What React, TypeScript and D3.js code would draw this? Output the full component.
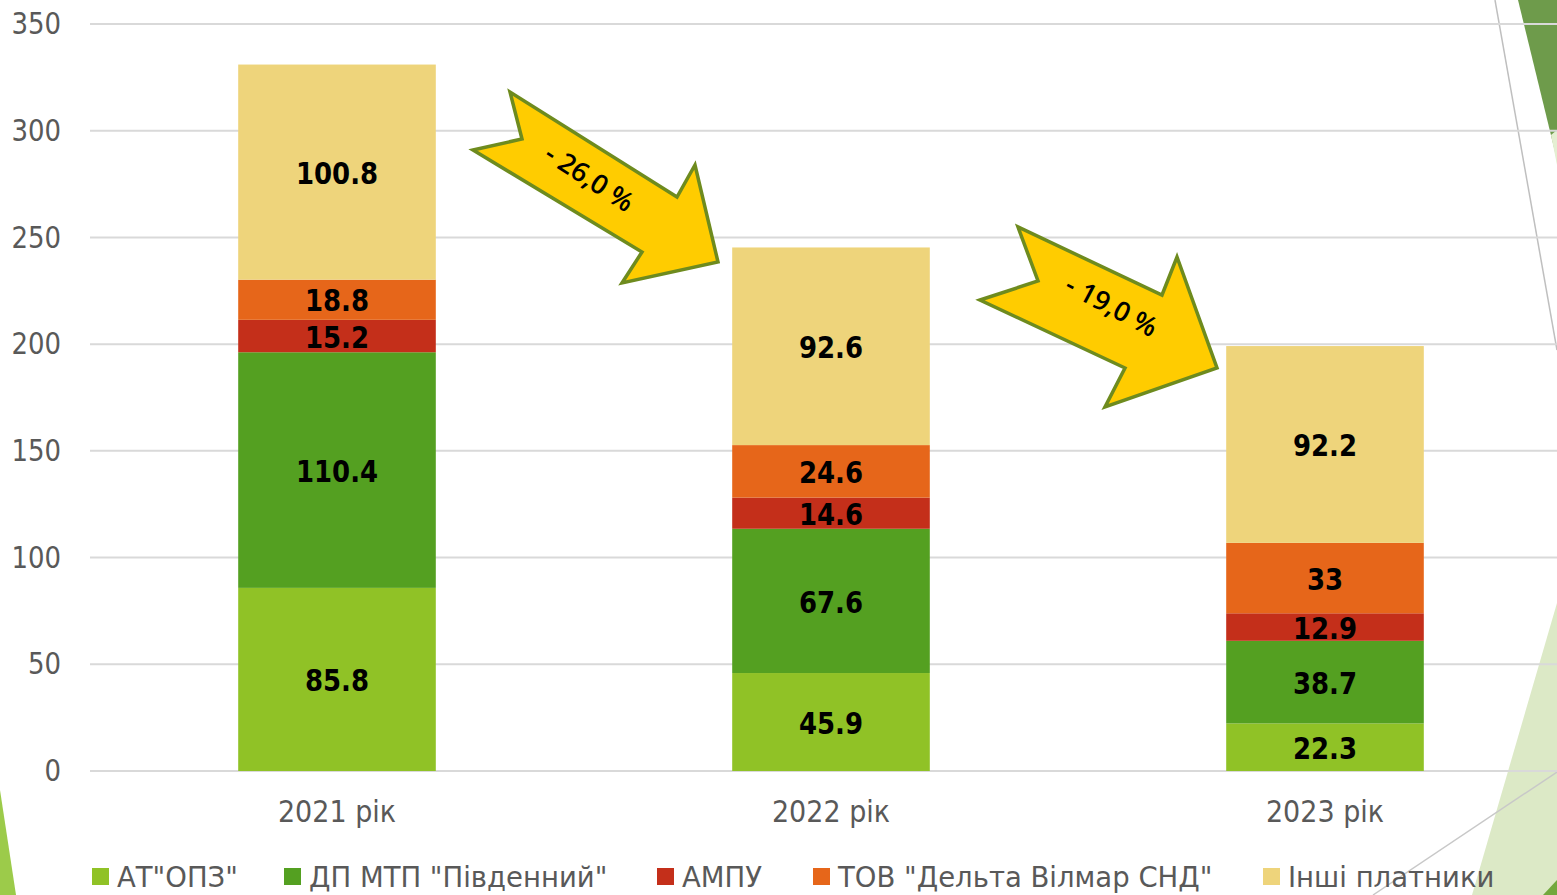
import React from "react";
import * as d3 from "d3";

const years = ["2021 рік", "2022 рік", "2023 рік"];
const seriesNames = ['АТ"ОПЗ"', 'ДП МТП "Південний"', "АМПУ", 'ТОВ "Дельта Вілмар СНД"', "Інші платники"];
const opz = [85.8, 45.9, 22.3];
const mtp = [110.4, 67.6, 38.7];
const ampu = [15.2, 14.6, 12.9];
const delta = [18.8, 24.6, 33];
const others = [100.8, 92.6, 92.2];
const yTicks = [0, 50, 100, 150, 200, 250, 300, 350];
const changeLabels = ["- 26,0 %", "- 19,0 %"];

const colors = ["#90C226", "#54A021", "#C42F1A", "#E6661A", "#EED47B"];
const W = 1557;
const H = 895;
const FONT = "'DejaVu Sans', Verdana, sans-serif";

// arrow annotation geometry (decorative)
const arrowShapes = [
  [[473, 150], [522, 139], [510, 92], [677, 197], [695, 165], [718, 262], [622, 283], [642, 252]],
  [[980, 300], [1038, 281], [1018, 227], [1162, 295], [1177, 257], [1217, 368], [1105, 407], [1125, 368]],
];
const arrowText = [
  { x: 590, y: 177, a: 33 },
  { x: 1112, y: 305, a: 28 },
];
const legendX = [92, 284, 657, 813, 1263];

export default function App() {
  const seriesValues = [opz, mtp, ampu, delta, others];
  const rows = years.map((yr, i) => {
    const r: any = { year: yr };
    seriesNames.forEach((n, s) => (r[n] = seriesValues[s][i]));
    return r;
  });
  const stacked = d3.stack<any>().keys(seriesNames)(rows);

  const y = d3.scaleLinear().domain([0, 350]).range([771, 24]);
  const x = d3.scaleBand().domain(years).range([90, 1572]).paddingInner(0.6).paddingOuter(0.3);

  return (
    <svg width={W} height={H} style={{ position: "absolute", left: 0, top: 0, background: "#fff" }}>
      {/* slide decorations */}
      <polygon points="1518,0 1557,0 1557,160" fill="#6E9B4B" />
      <polygon points="1551,135 1557,130 1557,165" fill="#E4EFD2" />
      <line x1={1495} y1={0} x2={1557} y2={350} stroke="#BFBFBF" strokeWidth={1.5} />
      <polygon points="1557,603 1557,895 1472,895" fill="#DCE9C6" />
      <polygon points="1543,895 1557,880 1557,895" fill="#72A83D" />
      <line x1={1557} y1={772} x2={1373} y2={895} stroke="#C8C8C8" strokeWidth={1.5} />
      <polygon points="0,790 16,895 0,895" fill="#9CCB4A" />

      {/* gridlines */}
      {yTicks.map((t) => (
        <line key={"g" + t} x1={90} x2={W} y1={y(t)} y2={y(t)} stroke="#D9D9D9" strokeWidth={2} />
      ))}
      {yTicks.map((t) => (
        <text
          key={"t" + t}
          transform={`translate(61,${y(t)}) scale(1,1.15)`}
          textAnchor="end"
          dominantBaseline="central"
          fontFamily={FONT}
          fontSize={26}
          fill="#595959"
        >
          {t}
        </text>
      ))}

      {/* bars */}
      {stacked.map((layer, s) => (
        <g key={layer.key} fill={colors[s]}>
          {layer.map((d, i) => (
            <rect
              key={i}
              x={x(years[i])}
              width={x.bandwidth()}
              y={y(d[1])}
              height={y(d[0]) - y(d[1])}
            />
          ))}
        </g>
      ))}
      {stacked.map((layer, s) =>
        layer.map((d, i) => (
          <text
            key={layer.key + i}
            transform={`translate(${x(years[i])! + x.bandwidth() / 2},${(y(d[0]) + y(d[1])) / 2 + 1.5}) scale(1,1.15)`}
            textAnchor="middle"
            dominantBaseline="central"
            fontFamily={FONT}
            fontWeight="bold"
            fontSize={26}
            fill="#000"
          >
            {String(seriesValues[s][i])}
          </text>
        ))
      )}

      {/* x labels */}
      {years.map((yr) => (
        <text
          key={yr}
          transform={`translate(${x(yr)! + x.bandwidth() / 2},811) scale(1,1.12)`}
          textAnchor="middle"
          dominantBaseline="central"
          fontFamily={FONT}
          fontSize={27}
          fill="#595959"
        >
          {yr}
        </text>
      ))}

      {/* change arrows */}
      {arrowShapes.map((pts, i) => (
        <g key={"a" + i}>
          <polygon
            points={pts.map((p) => p.join(",")).join(" ")}
            fill="#FFCC00"
            stroke="#6E8B1E"
            strokeWidth={3.5}
            strokeLinejoin="miter"
          />
          <text
            transform={`translate(${arrowText[i].x},${arrowText[i].y}) rotate(${arrowText[i].a})`}
            textAnchor="middle"
            dominantBaseline="central"
            fontFamily="'Open Sans', 'Noto Sans', sans-serif"
            fontWeight={600}
            fontSize={27}
            fill="#000"
          >
            {changeLabels[i]}
          </text>
        </g>
      ))}

      {/* legend */}
      {seriesNames.map((n, i) => (
        <g key={"l" + n} transform={`translate(${legendX[i]},877)`}>
          <rect x={0} y={-9} width={17} height={17} fill={colors[i]} />
          <text
            x={25}
            y={0}
            dominantBaseline="central"
            fontFamily={FONT}
            fontSize={27.5}
            fill="#595959"
          >
            {n}
          </text>
        </g>
      ))}
    </svg>
  );
}
